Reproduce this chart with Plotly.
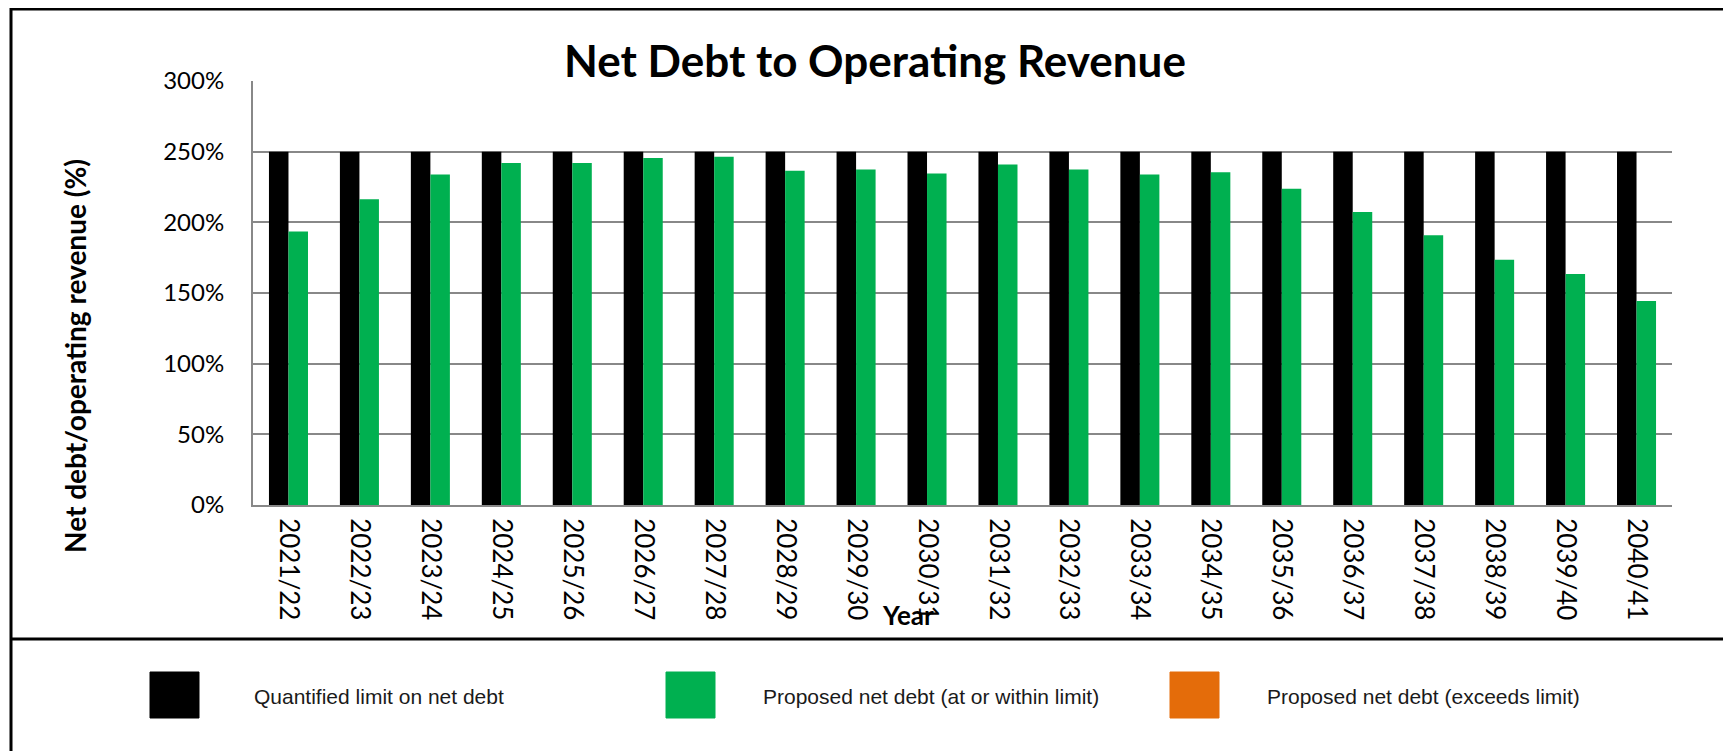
import plotly.graph_objects as go

years = ["2021/22", "2022/23", "2023/24", "2024/25", "2025/26", "2026/27", "2027/28",
         "2028/29", "2029/30", "2030/31", "2031/32", "2032/33", "2033/34", "2034/35",
         "2035/36", "2036/37", "2037/38", "2038/39", "2039/40", "2040/41"]
limit = [250, 250, 250, 250, 250, 250, 250, 250, 250, 250,
         250, 250, 250, 250, 250, 250, 250, 250, 250, 250]
within = [193.6, 216.4, 233.9, 241.9, 241.9, 245.5, 246.4, 236.5, 237.4, 234.6,
          241.0, 237.4, 233.9, 235.5, 223.7, 207.3, 190.8, 173.5, 163.5, 144.3]
exceeds = [0, 0, 0, 0, 0, 0, 0, 0, 0, 0, 0, 0, 0, 0, 0, 0, 0, 0, 0, 0]
y_ticks = [0, 50, 100, 150, 200, 250, 300]
y_tick_labels = ["0%", "50%", "100%", "150%", "200%", "250%", "300%"]

series_names = ["Quantified limit on net debt",
                "Proposed net debt (at or within limit)",
                "Proposed net debt (exceeds limit)"]
colors = ["#000000", "#00B050", "#E46C0A"]

# page offset (default body margin of the html page)
OFF = 8
W, H = 1731 - OFF, 751 - OFF
# plot area in screenshot coordinates
PL, PR, PT, PB = 253, 1672, 81, 505
L, R, T, B = PL - OFF, (W + OFF) - PR, PT - OFF, (H + OFF) - PB
PW = PR - PL
PH = PB - PT


def px(x):
    return (x - PL) / PW


def py(y):
    return (PB - y) / PH


fig = go.Figure()
fig.add_trace(go.Bar(x=years, y=limit, name=series_names[0], marker_color=colors[0],
                     marker_line_width=0, offsetgroup="a"))
fig.add_trace(go.Bar(x=years, y=within, name=series_names[1], marker_color=colors[1],
                     marker_line_width=0, offsetgroup="b"))
fig.add_trace(go.Bar(x=years, y=exceeds, name=series_names[2], marker_color=colors[2],
                     marker_line_width=0, offsetgroup="b"))

GRID = "#888888"
FAM = "Lato, Open Sans, sans-serif"

fig.update_layout(
    width=W, height=H,
    margin=dict(l=L, r=R, t=T, b=B, pad=0),
    paper_bgcolor="white", plot_bgcolor="white",
    barmode="group", bargap=0.45, bargroupgap=0,
    showlegend=False,
    font=dict(family=FAM, color="#000000"),
)
fig.update_xaxes(
    type="category", tickangle=90, tickfont=dict(family=FAM, size=26, color="#000000"),
    showline=True, linecolor=GRID, linewidth=2,
    showgrid=False, ticks="", ticklabelstandoff=6,
)
fig.update_yaxes(
    range=[0, 300], tickmode="array", tickvals=y_ticks, ticktext=y_tick_labels,
    tickfont=dict(family=FAM, size=24, color="#000000"),
    showline=True, linecolor=GRID, linewidth=2,
    showgrid=True, gridcolor=GRID, gridwidth=2, zeroline=False,
    ticks="", ticklabelstandoff=22,
)

# Title and axis titles
fig.add_annotation(text="<b>Net Debt to Operating Revenue</b>", xref="paper", yref="paper",
                   x=px(875), y=py(60), xanchor="center", yanchor="middle", showarrow=False,
                   font=dict(family=FAM, size=44, color="#000000"))
fig.add_annotation(text="<b>Net debt/operating revenue (%)</b>", xref="paper", yref="paper",
                   x=px(75), y=py(356), xanchor="center", yanchor="middle", showarrow=False,
                   textangle=-90,
                   font=dict(family=FAM, size=28, color="#000000"))
fig.add_annotation(text="<b>Year</b>", xref="paper", yref="paper",
                   x=px(908), y=py(615), xanchor="center", yanchor="middle", showarrow=False,
                   font=dict(family=FAM, size=26, color="#000000"))

# Outer border and separator
fig.add_shape(type="rect", xref="paper", yref="paper",
              x0=px(11), x1=px(1731 + 20), y0=py(9), y1=py(751 + 20),
              line=dict(color="#000000", width=3), fillcolor="rgba(0,0,0,0)", layer="above")
fig.add_shape(type="line", xref="paper", yref="paper",
              x0=px(11), x1=px(1731 + 20), y0=py(639), y1=py(639),
              line=dict(color="#000000", width=3), layer="above")

# Manual legend
legend_sq_x = [150, 666, 1170]
legend_tx_x = [252, 761, 1265]
for name, col, sx, tx in zip(series_names, colors, legend_sq_x, legend_tx_x):
    fig.add_shape(type="rect", xref="paper", yref="paper",
                  x0=px(sx), x1=px(sx + 49), y0=py(672), y1=py(718),
                  line=dict(color=col, width=1), fillcolor=col, layer="above")
    fig.add_annotation(text=name, xref="paper", yref="paper",
                       x=px(tx), y=py(696), xanchor="left", yanchor="middle", showarrow=False,
                       font=dict(family="Liberation Sans Narrow, Arial Narrow, Liberation Sans, Arial, sans-serif",
                                 size=21, color="#1a1a1a"))

fig.write_html("out.html")
